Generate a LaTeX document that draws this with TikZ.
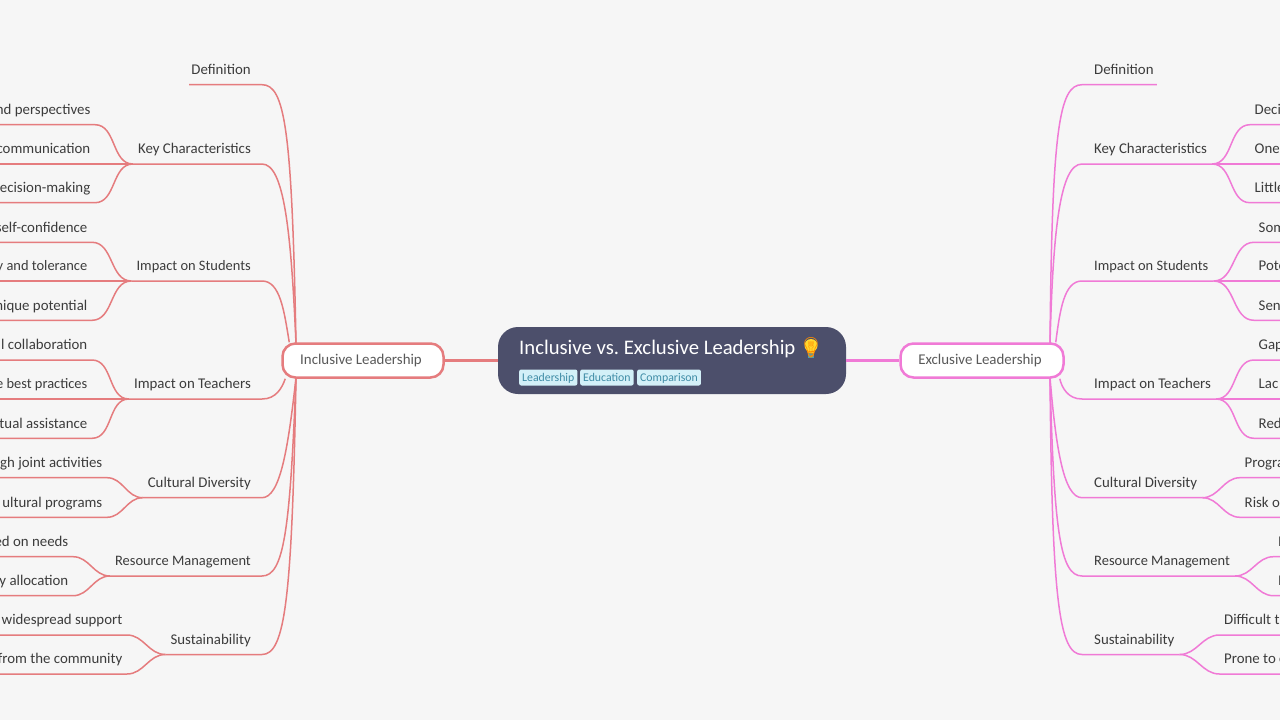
\documentclass[tikz,border=0pt]{standalone}
\usepackage{fontspec}
\setmainfont{Carlito}
\newfontfamily\emojifont{Noto Emoji}
\frenchspacing
\definecolor{bgcol}{HTML}{F6F6F6}
\definecolor{rootcol}{HTML}{4C4F6B}
\definecolor{tagfill}{HTML}{D3F0F8}
\definecolor{tagtext}{HTML}{3F8CA6}
\definecolor{leftcol}{HTML}{E57C7E}
\definecolor{rightcol}{HTML}{F07AD6}
\definecolor{labelcol}{HTML}{3C3C3C}
\definecolor{bulbcol}{HTML}{FFD92E}
\definecolor{bulbbase}{HTML}{4F9DA8}
\tikzset{
  rootbox/.style={fill=rootcol, rounded corners=20pt, minimum width=348pt, minimum height=67pt},
  titletext/.style={text=white, font=\fontsize{20.7}{24}\selectfont, inner sep=0pt, anchor=west},
  tagbox/.style={fill=tagfill, text=tagtext, rounded corners=2pt, font=\fontsize{11.8}{14}\selectfont, inner xsep=3pt, inner ysep=0pt, text height=9.5pt, text depth=2.5pt, minimum height=16pt, anchor=west},
  mainbox/.style={draw, fill=white, line width=2.5pt, rounded corners=13pt, minimum height=34pt, text=labelcol!85, font=\fontsize{14.9}{18}\selectfont, execute at end node=\hspace{4pt}},
  textlabel/.style={text=labelcol, font=\fontsize{14.85}{18}\selectfont, inner ysep=0pt, text height=11pt, text depth=10pt},
  narrowtext/.style={font=\fontsize{14.45}{18}\selectfont},
  midL/.style={textlabel, anchor=south east, inner xsep=0pt, execute at begin node=\hspace{5pt}, execute at end node=\hspace{11pt}},
  midR/.style={textlabel, anchor=south west, inner xsep=0pt, execute at begin node=\hspace{12pt}, execute at end node=\hspace{5pt}},
  leafL/.style={textlabel, anchor=south east, inner xsep=4.5pt},
  leafR/.style={textlabel, anchor=south west, inner xsep=4.5pt},
  defL/.style={textlabel, anchor=south east, inner xsep=0pt, execute at begin node=\hspace{2pt}, execute at end node=\hspace{11pt}},
  defR/.style={textlabel, anchor=south west, inner xsep=0pt, execute at begin node=\hspace{12pt}, execute at end node=\hspace{3pt}},
  lineL/.style={draw=leftcol, line width=1.5pt},
  lineR/.style={draw=rightcol, line width=1.5pt},
  thickL/.style={draw=leftcol, line width=3pt},
  thickR/.style={draw=rightcol, line width=3pt},
}
\begin{document}
\begin{tikzpicture}[x=1pt,y=-1pt]

      \path[use as bounding box, clip] (0,0) rectangle (1280,720);
      \fill[bgcol] (0,0) rectangle (1280,720);

      \coordinate (edgeL)  at (0,0);
      \coordinate (edgeR)  at (1280,0);
      \coordinate (inclN)  at (296,343.5);
      \coordinate (inclS)  at (296,377.5);
      \coordinate (exclN)  at (1050,343.5);
      \coordinate (exclS)  at (1050,377.5);

      % centre
      \node[rootbox] (root) at (672,360.5) {};
      \node[titletext] (title) at (519,348.5) {Inclusive vs. Exclusive Leadership};
      \fill[bulbcol] (811,345.5) circle (6.5);
      \fill[bulbcol] (808,350) rectangle (814,354);
      \fill[bulbbase] (808,353) rectangle (814,358);
      \node[text=orange!90!yellow, font=\emojifont\fontsize{20}{24}\selectfont, inner sep=0pt] (bulb) at (811,348) {\symbol{"1F4A1}};
      \node[tagbox] (tag1) at (519,377.5) {Leadership};
      \node[tagbox] (tag2) at (580,377.5) {Education};
      \node[tagbox] (tag3) at (637,377.5) {Comparison};

      \node[mainbox, draw=leftcol, minimum width=161pt]  (inclL) at (363,360.5) {Inclusive Leadership};
      \node[mainbox, draw=rightcol, minimum width=163pt] (exclR) at (982,360.5) {Exclusive Leadership};

      % left side, second level
      \node[defL] (defL)  at (262,84.7)  {Definition};
      \node[midL] (keyL)  at (262,164)   {Key Characteristics};
      \node[midL, narrowtext] (stuL)  at (262,281)   {Impact on Students};
      \node[midL] (teaL)  at (262,399)   {Impact on Teachers};
      \node[midL] (culL)  at (262,497.7) {Cultural Diversity};
      \node[midL, narrowtext] (resL)  at (262,576)   {Resource Management};
      \node[midL] (susL)  at (262,654.5) {Sustainability};

      % left side, leaves
      \node[leafL] (key1L) at (95,124.7)  {nd perspectives};
      \node[leafL] (key2L) at (95,164)    {communication};
      \node[leafL] (key3L) at (95,202.7)  {ecision-making};
      \node[leafL] (stu1L) at (92,242.3)  {self-confidence};
      \node[leafL, narrowtext] (stu2L) at (92,281)    {y and tolerance};
      \node[leafL] (stu3L) at (92,320.3)  {nique potential};
      \node[leafL] (tea1L) at (92,360)    {l collaboration};
      \node[leafL, narrowtext] (tea2L) at (92,399)    {e best practices};
      \node[leafL] (tea3L) at (92,438.3)  {tual assistance};
      \node[leafL] (cul1L) at (107,477.7) {gh joint activities};
      \node[leafL] (cul2L) at (107,517.3) {ultural programs};
      \node[leafL] (res1L) at (73,556.7)  {ed on needs};
      \node[leafL] (res2L) at (73,595.7)  {y allocation};
      \node[leafL] (sus1L) at (127,635)   {widespread support};
      \node[leafL] (sus2L) at (127,674)   {from the community};

      % right side, second level
      \node[defR] (defR)  at (1082,84.7)  {Definition};
      \node[midR] (keyR)  at (1082,164)   {Key Characteristics};
      \node[midR, narrowtext] (stuR)  at (1082,281)   {Impact on Students};
      \node[midR] (teaR)  at (1082,399)   {Impact on Teachers};
      \node[midR] (culR)  at (1082,497.7) {Cultural Diversity};
      \node[midR, narrowtext] (resR)  at (1082,576)   {Resource Management};
      \node[midR] (susR)  at (1082,654.5) {Sustainability};

      % right side, leaves
      \node[leafR] (key1R) at (1250,124.7) {Deci};
      \node[leafR] (key2R) at (1250,164)   {One};
      \node[leafR] (key3R) at (1250,202.7) {Little};
      \node[leafR] (stu1R) at (1254,242.3) {Som};
      \node[leafR] (stu2R) at (1254,281)   {Pote};
      \node[leafR] (stu3R) at (1254,320.3) {Sen};
      \node[leafR] (tea1R) at (1254,360)   {Gap};
      \node[leafR] (tea2R) at (1254,399)   {Lac};
      \node[leafR] (tea3R) at (1254,438.3) {Red};
      \node[leafR] (cul1R) at (1240,477.7) {Progra};
      \node[leafR] (cul2R) at (1240,517.3) {Risk o};
      \node[leafR] (res1R) at (1273.5,556.7) {I};
      \node[leafR] (res2R) at (1273.5,595.7) {I};
      \node[leafR] (sus1R) at (1219.5,635) {Difficult t};
      \node[leafR] (sus2R) at (1219.5,674) {Prone to c};

      % thick links
      \draw[thickL] (root.west) -- (inclL.east);
      \draw[thickR] (root.east) -- (exclR.west);

      % left curves
      \draw[lineL] (defL.south west) -- (defL.south east) .. controls (285,84.7) and (292,130) .. (inclN);
      \draw[lineL] (keyL.south west) -- (keyL.south east) .. controls (284,164) and (291,230) .. (inclN);
      \draw[lineL] (stuL.south west) -- (stuL.south east) .. controls (280,281) and (284,310) .. ([xshift=8pt]inclL.north west);
      \draw[lineL] (teaL.south west) -- (teaL.south east) .. controls (276,399) and (282,388) .. ([xshift=4pt]inclL.south west);
      \draw[lineL] (culL.south west) -- (culL.south east) .. controls (280,497.7) and (288,450) .. (inclS);
      \draw[lineL] (resL.south west) -- (resL.south east) .. controls (284,576) and (290,530) .. (inclS);
      \draw[lineL] (susL.south west) -- (susL.south east) .. controls (285,654.5) and (292,600) .. (inclS);

      \draw[lineL] (keyL.south west) to[out=180,in=0] (key1L.south east) -- (key1L.south east -| edgeL);
      \draw[lineL] (keyL.south west) -- (key2L.south east) -- (key2L.south east -| edgeL);
      \draw[lineL] (keyL.south west) to[out=180,in=0] (key3L.south east) -- (key3L.south east -| edgeL);
      \draw[lineL] (stuL.south west) to[out=180,in=0] (stu1L.south east) -- (stu1L.south east -| edgeL);
      \draw[lineL] (stuL.south west) -- (stu2L.south east) -- (stu2L.south east -| edgeL);
      \draw[lineL] (stuL.south west) to[out=180,in=0] (stu3L.south east) -- (stu3L.south east -| edgeL);
      \draw[lineL] (teaL.south west) to[out=180,in=0] (tea1L.south east) -- (tea1L.south east -| edgeL);
      \draw[lineL] (teaL.south west) -- (tea2L.south east) -- (tea2L.south east -| edgeL);
      \draw[lineL] (teaL.south west) to[out=180,in=0] (tea3L.south east) -- (tea3L.south east -| edgeL);
      \draw[lineL] (culL.south west) to[out=180,in=0] (cul1L.south east) -- (cul1L.south east -| edgeL);
      \draw[lineL] (culL.south west) to[out=180,in=0] (cul2L.south east) -- (cul2L.south east -| edgeL);
      \draw[lineL] (resL.south west) to[out=180,in=0] (res1L.south east) -- (res1L.south east -| edgeL);
      \draw[lineL] (resL.south west) to[out=180,in=0] (res2L.south east) -- (res2L.south east -| edgeL);
      \draw[lineL] (susL.south west) to[out=180,in=0] (sus1L.south east) -- (sus1L.south east -| edgeL);
      \draw[lineL] (susL.south west) to[out=180,in=0] (sus2L.south east) -- (sus2L.south east -| edgeL);

      % right curves
      \draw[lineR] (defR.south east) -- (defR.south west) .. controls (1059,84.7) and (1052,130) .. (exclN);
      \draw[lineR] (keyR.south east) -- (keyR.south west) .. controls (1060,164) and (1053,230) .. (exclN);
      \draw[lineR] (stuR.south east) -- (stuR.south west) .. controls (1064,281) and (1060,310) .. ([xshift=-9pt]exclR.north east);
      \draw[lineR] (teaR.south east) -- (teaR.south west) .. controls (1068,399) and (1062,388) .. ([xshift=-5pt]exclR.south east);
      \draw[lineR] (culR.south east) -- (culR.south west) .. controls (1064,497.7) and (1056,450) .. (exclS);
      \draw[lineR] (resR.south east) -- (resR.south west) .. controls (1060,576) and (1054,530) .. (exclS);
      \draw[lineR] (susR.south east) -- (susR.south west) .. controls (1059,654.5) and (1052,600) .. (exclS);

      \draw[lineR] (keyR.south east) to[out=0,in=180] (key1R.south west) -- (key1R.south west -| edgeR);
      \draw[lineR] (keyR.south east) -- (key2R.south west) -- (key2R.south west -| edgeR);
      \draw[lineR] (keyR.south east) to[out=0,in=180] (key3R.south west) -- (key3R.south west -| edgeR);
      \draw[lineR] (stuR.south east) to[out=0,in=180] (stu1R.south west) -- (stu1R.south west -| edgeR);
      \draw[lineR] (stuR.south east) -- (stu2R.south west) -- (stu2R.south west -| edgeR);
      \draw[lineR] (stuR.south east) to[out=0,in=180] (stu3R.south west) -- (stu3R.south west -| edgeR);
      \draw[lineR] (teaR.south east) to[out=0,in=180] (tea1R.south west) -- (tea1R.south west -| edgeR);
      \draw[lineR] (teaR.south east) -- (tea2R.south west) -- (tea2R.south west -| edgeR);
      \draw[lineR] (teaR.south east) to[out=0,in=180] (tea3R.south west) -- (tea3R.south west -| edgeR);
      \draw[lineR] (culR.south east) to[out=0,in=180] (cul1R.south west) -- (cul1R.south west -| edgeR);
      \draw[lineR] (culR.south east) to[out=0,in=180] (cul2R.south west) -- (cul2R.south west -| edgeR);
      \draw[lineR] (resR.south east) to[out=0,in=180] (res1R.south west) -- (res1R.south west -| edgeR);
      \draw[lineR] (resR.south east) to[out=0,in=180] (res2R.south west) -- (res2R.south west -| edgeR);
      \draw[lineR] (susR.south east) to[out=0,in=180] (sus1R.south west) -- (sus1R.south west -| edgeR);
      \draw[lineR] (susR.south east) to[out=0,in=180] (sus2R.south west) -- (sus2R.south west -| edgeR);

    \end{tikzpicture}
\end{document}
